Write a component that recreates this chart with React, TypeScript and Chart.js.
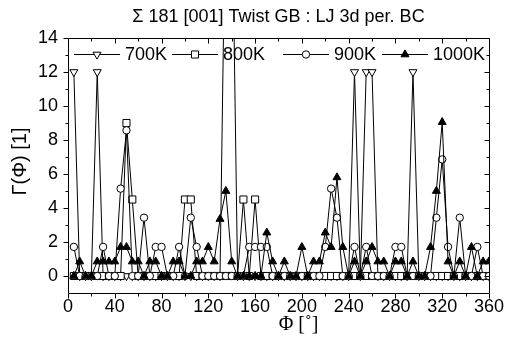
import React, { useEffect, useRef } from 'react';
import { Chart, registerables } from 'chart.js';

Chart.register(...registerables);

const title = 'Σ 181 [001] Twist GB : LJ 3d per. BC';
const xTitle = 'Φ [˚]';
const yTitle = 'Γ(Φ) [1]';

const angles = [
  5, 10, 15, 20, 25, 30, 35, 40, 45, 50,
  55, 60, 65, 70, 75, 80, 85, 90, 95, 100,
  105, 110, 115, 120, 125, 130, 135, 140, 145, 150,
  155, 160, 165, 170, 175, 180, 185, 190, 195, 200,
  205, 210, 215, 220, 225, 230, 235, 240, 245, 250,
  255, 260, 265, 270, 275, 280, 285, 290, 295, 300,
  305, 310, 315, 320, 325, 330, 335, 340, 345, 350,
  355, 360,
];

const g700 = [
  12, 0, 0, 0, 12, 0, 0, 0, 0, 0,
  0, 0, 0, 0, 0, 0, 0, 0, 0, 0,
  0, 0, 0, 0, 0, 0, 24, 24, 0, 0,
  0, 0, 0, 0, 0, 0, 0, 0, 0, 0,
  0, 0, 0, 0, 0, 0, 0, 0, 12, 0,
  12, 12, 0, 0, 0, 0, 0, 0, 12, 0,
  0, 0, 0, 0, 0, 0, 0, 0, 0, 0,
  0, 0,
];

const g800 = [
  0, 0, 0, 0, 0, 0, 0, 0, 0, 9,
  4.5, 0, 0, 0, 0, 0, 0, 0, 0, 4.5,
  4.5, 0, 0, 0, 0, 0, 0, 0, 0, 4.5,
  0, 4.5, 0, 0, 0, 0, 0, 0, 0, 0,
  0, 0, 0, 0, 0, 0, 0, 0, 0, 0,
  0, 0, 0, 0, 0, 0, 0, 0, 0, 0,
  0, 0, 0, 0, 0, 0, 0, 0, 0, 0,
  0, 0,
];

const g900 = [
  1.71, 0, 0, 0, 0, 1.71, 0, 0, 5.14, 8.57,
  0, 0, 3.43, 0, 1.71, 1.71, 0, 0, 1.71, 0,
  3.43, 1.71, 0, 0, 0, 0, 0, 0, 0, 0,
  1.71, 1.71, 1.71, 1.71, 0, 0, 0, 0, 0, 0,
  0, 0, 0, 1.71, 5.14, 3.43, 0, 0, 1.71, 0,
  1.71, 0, 0, 0, 0, 1.71, 1.71, 0, 0, 0,
  0, 0, 3.43, 6.86, 1.71, 0, 3.43, 0, 0, 1.71,
  0, 0,
];

const g1000 = [
  0, 0.85, 0, 0, 0.85, 0.85, 0.85, 0.85, 1.7, 1.7,
  0.85, 0.85, 0, 0.85, 0.85, 0, 0, 0.85, 0.85, 0,
  0, 0.85, 0.85, 1.7, 0.85, 3.35, 5.0, 0.85, 0, 0,
  0, 0, 0, 2.55, 0.85, 0, 0.85, 0, 0, 1.7,
  0, 0.85, 0.85, 2.55, 1.7, 5.8, 1.7, 0, 0.85, 0,
  0.85, 1.7, 0.85, 0.85, 0, 0.85, 0.85, 0, 0.85, 0,
  0, 1.7, 5.0, 9.05, 0.85, 0, 0.85, 0, 1.7, 0,
  0.85, 0.85,
];

const seriesLabels = ['700K', '800K', '900K', '1000K'];
const xTicks = [0, 40, 80, 120, 160, 200, 240, 280, 320, 360];
const xMinor = [20, 60, 100, 140, 180, 220, 260, 300, 340];
const yTicks = [0, 2, 4, 6, 8, 10, 12, 14];
const yMinor = [1, 3, 5, 7, 9, 11, 13];

const FONT = '"Liberation Sans", Arial, sans-serif';
const SERIF = '"Liberation Serif", "Times New Roman", serif';

type Sty = { style: string; rot: number; r: number; fill: string };
const styles: Sty[] = [
  { style: 'triangle', rot: 180, r: 4.6, fill: '#fff' },
  { style: 'rect', rot: 0, r: 5.0, fill: '#fff' },
  { style: 'circle', rot: 0, r: 3.7, fill: '#fff' },
  { style: 'triangle', rot: 0, r: 4.6, fill: '#000' },
];

function drawMarker(ctx: CanvasRenderingContext2D, s: Sty, x: number, y: number) {
  ctx.save();
  ctx.fillStyle = s.fill;
  ctx.strokeStyle = '#000';
  ctx.lineWidth = 1;
  ctx.beginPath();
  if (s.style === 'circle') {
    ctx.arc(x, y, s.r, 0, Math.PI * 2);
  } else if (s.style === 'rect') {
    const h = s.r * Math.SQRT1_2;
    ctx.rect(x - h, y - h, 2 * h, 2 * h);
  } else {
    const base = (s.rot * Math.PI) / 180 - Math.PI / 2;
    for (let k = 0; k < 3; k++) {
      const a = base + (k * 2 * Math.PI) / 3;
      const px = x + Math.cos(a) * s.r;
      const py = y + Math.sin(a) * s.r;
      if (k === 0) ctx.moveTo(px, py);
      else ctx.lineTo(px, py);
    }
    ctx.closePath();
  }
  ctx.fill();
  ctx.stroke();
  ctx.restore();
}

const legendOffsets = [6, 104, 215, 314];

const decorPlugin = {
  id: 'decor',
  afterDraw(chart: any) {
    const { ctx, chartArea: a, scales } = chart;
    const xs = scales.x;
    const ys = scales.y;
    ctx.save();
    ctx.strokeStyle = '#000';
    ctx.lineWidth = 1;
    const L = Math.round(a.left) + 0.5;
    const R = Math.round(a.right) + 0.5;
    const T = Math.round(a.top) + 0.5;
    const B = Math.round(a.bottom) + 0.5;
    ctx.beginPath();
    ctx.rect(L, T, R - L, B - T);
    ctx.stroke();

    ctx.beginPath();
    const xt = (v: number, len: number) => {
      const px = Math.round(xs.getPixelForValue(v)) + 0.5;
      ctx.moveTo(px, B);
      ctx.lineTo(px, B + len);
      ctx.moveTo(px, T);
      ctx.lineTo(px, T + len);
    };
    const yt = (v: number, len: number) => {
      const py = Math.round(ys.getPixelForValue(v)) + 0.5;
      ctx.moveTo(L - len, py);
      ctx.lineTo(L, py);
      ctx.moveTo(R, py);
      ctx.lineTo(R - len, py);
    };
    xTicks.forEach((v) => xt(v, 5));
    xMinor.forEach((v) => xt(v, 3));
    yTicks.forEach((v) => yt(v, 5));
    yMinor.forEach((v) => yt(v, 3));
    ctx.stroke();

    // title
    ctx.fillStyle = '#000';
    ctx.font = `18px ${FONT}`;
    ctx.textAlign = 'center';
    ctx.textBaseline = 'middle';
    ctx.fillText(title, (a.left + a.right) / 2, 17);

    // axis titles
    ctx.font = `20px ${SERIF}`;
    ctx.fillText(xTitle, (a.left + a.right) / 2 + 20, 325);
    ctx.save();
    ctx.translate(20, (a.top + a.bottom) / 2 - 4);
    ctx.rotate(-Math.PI / 2);
    ctx.font = `20px ${FONT}`;
    ctx.fillText(yTitle, 0, 0);
    ctx.restore();

    // legend
    const ly = a.top + 16.5;
    ctx.font = `18px ${FONT}`;
    ctx.textAlign = 'left';
    seriesLabels.forEach((lab, i) => {
      const x0 = a.left + legendOffsets[i];
      ctx.beginPath();
      ctx.moveTo(x0, ly);
      ctx.lineTo(x0 + 46, ly);
      ctx.stroke();
      drawMarker(ctx, styles[i], x0 + 23, ly);
      ctx.fillText(lab, x0 + 51, ly + 1);
    });
    ctx.restore();
  },
};

export default function App() {
  const ref = useRef<HTMLCanvasElement | null>(null);
  useEffect(() => {
    document.body.style.margin = '0';
    const series = [g700, g800, g900, g1000];
    const datasets = series.map((vals, i) => ({
      label: seriesLabels[i],
      data: angles.map((x, j) => ({ x, y: vals[j] })),
      borderColor: '#000',
      borderWidth: 1,
      backgroundColor: styles[i].fill,
      pointBackgroundColor: styles[i].fill,
      pointBorderColor: '#000',
      pointBorderWidth: 1,
      pointStyle: styles[i].style,
      pointRotation: styles[i].rot,
      pointRadius: styles[i].r,
      tension: 0,
      fill: false,
      order: 3 - i,
    }));
    const chart = new Chart(ref.current as HTMLCanvasElement, {
      type: 'line',
      data: { datasets },
      plugins: [decorPlugin],
      options: {
        animation: false,
        responsive: false,
        devicePixelRatio: 1,
        layout: { padding: { top: 38, right: 16, left: 0, bottom: 0 } },
        plugins: { legend: { display: false }, tooltip: { enabled: false }, title: { display: false } },
        scales: {
          x: {
            type: 'linear',
            min: 0,
            max: 360,
            afterBuildTicks: (s: any) => {
              s.ticks = xTicks.map((v) => ({ value: v }));
            },
            afterFit: (s: any) => {
              s.height = 50;
            },
            grid: { display: false, drawTicks: false },
            border: { display: false },
            ticks: {
              color: '#000',
              font: { family: FONT, size: 18 },
              padding: 3,
              maxRotation: 0,
              autoSkip: false,
            },
          },
          y: {
            type: 'linear',
            min: -1,
            max: 14,
            afterBuildTicks: (s: any) => {
              s.ticks = yTicks.map((v) => ({ value: v }));
            },
            afterFit: (s: any) => {
              s.width = 68;
            },
            grid: { display: false, drawTicks: false },
            border: { display: false },
            ticks: {
              color: '#000',
              font: { family: FONT, size: 18 },
              padding: 10,
              autoSkip: false,
            },
          },
        },
      } as any,
    });
    return () => chart.destroy();
  }, []);
  return (
    <div style={{ position: 'absolute', left: 0, top: 0, width: 507, height: 343 }}>
      <canvas ref={ref} width={507} height={343} style={{ display: 'block' }} />
    </div>
  );
}
